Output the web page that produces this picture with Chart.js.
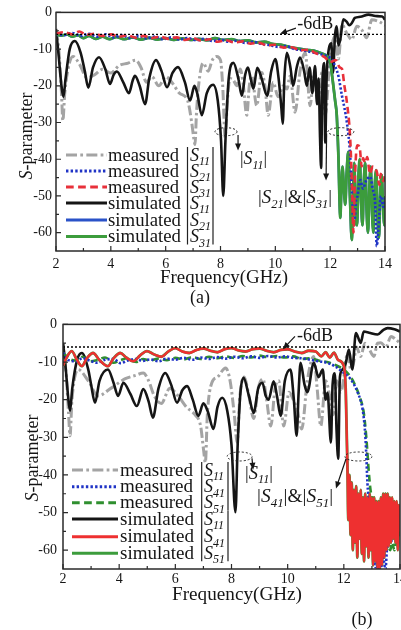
<!DOCTYPE html>
<html lang="en">
<head>
<meta charset="UTF-8">
<title>S-parameter</title>
<script src="https://cdn.jsdelivr.net/npm/chart.js@4.4.1/dist/chart.umd.min.js"></script>
<style>
  html, body { margin: 0; padding: 0; background: #fff; overflow: hidden; }
  .wrap { position: relative; width: 401px; height: 630px; overflow: hidden; }
  #chartA { position: absolute; left: 0; top: 0; }
  #chartB { position: absolute; left: 0; top: 310px; }
</style>
</head>
<body>
<div class="wrap">
  <canvas id="chartA" width="401" height="308"></canvas>
  <canvas id="chartB" width="410" height="320"></canvas>
</div>
<script>
// axis ticks
const xTicks = [2, 4, 6, 8, 10, 12, 14];
const xMinor = [3, 5, 7, 9, 11, 13];
const yTicks = [-60, -50, -40, -30, -20, -10, 0];
const yMinor = [-55, -45, -35, -25, -15, -5];
const refLevel = -6;

// ---- panel (a) : [GHz, dB]
const aS11meas = [[2.0,-5],[2.1,-10],[2.2,-22],[2.25,-29.5],[2.32,-22],[2.45,-15],[2.62,-12],[2.85,-14],[3.13,-17.8],[3.4,-17],[3.7,-15.5],[4.0,-16.5],[4.3,-14.5],[4.63,-13.8],[4.9,-13],[5.1,-15],[5.3,-19],[5.5,-17.5],[5.75,-20],[6.0,-17.5],[6.27,-19.5],[6.5,-22],[6.8,-24],[6.95,-30],[7.02,-34],[7.07,-36],[7.12,-28],[7.2,-20],[7.37,-13.8],[7.55,-16],[7.7,-13],[7.86,-12],[8.0,-13],[8.08,-20],[8.17,-34],[8.25,-24],[8.35,-18],[8.47,-18.5],[8.6,-20],[8.72,-15.4],[8.82,-19],[8.96,-28],[9.05,-20],[9.14,-17.3],[9.32,-25.4],[9.5,-16.4],[9.62,-20],[9.74,-28],[9.92,-19],[10.1,-23],[10.3,-20],[10.42,-20.9],[10.54,-17.3],[10.72,-27.2],[10.9,-16],[11.09,-11],[11.27,-25.4],[11.4,-17],[11.55,-24],[11.7,-16.4],[11.82,-28],[12.0,-12],[12.18,-6.5],[12.3,-12.7],[12.43,-3.3],[12.6,-5.6],[12.79,-7.4],[12.97,-3.8],[13.15,-4.7],[13.33,-6.9],[13.52,-2],[13.75,-2.4],[13.94,-3.2],[14.0,-3.5]];
const aS11sim = [[2.0,-4.5],[2.1,-12],[2.2,-20],[2.27,-23],[2.35,-18],[2.5,-10],[2.69,-7.8],[2.9,-11],[3.05,-16],[3.18,-20.5],[3.35,-15],[3.57,-12.2],[3.8,-15.5],[3.97,-19.5],[4.1,-17],[4.22,-16.1],[4.45,-19],[4.66,-22],[4.8,-18.5],[4.88,-17.3],[5.05,-20],[5.25,-25],[5.4,-18],[5.65,-13],[5.85,-16],[6.05,-20.4],[6.25,-16.5],[6.45,-14.9],[6.7,-19],[6.89,-24],[7.05,-20],[7.15,-22],[7.32,-28],[7.5,-22],[7.73,-19.7],[7.9,-24],[8.02,-35],[8.1,-50],[8.18,-35],[8.3,-18],[8.47,-13.7],[8.65,-18],[8.78,-22.7],[8.9,-17],[9.0,-15],[9.1,-18],[9.2,-20.8],[9.34,-15.1],[9.5,-18],[9.7,-22.7],[9.85,-16],[10.0,-12.7],[10.12,-18],[10.22,-26],[10.27,-30.3],[10.33,-18],[10.42,-11],[10.55,-15],[10.65,-20],[10.78,-15],[10.9,-12.3],[11.05,-16],[11.15,-20],[11.25,-15],[11.35,-22],[11.45,-14.6],[11.52,-25],[11.58,-18],[11.63,-34],[11.67,-42.4],[11.71,-22],[11.78,-13.8],[11.82,-35.5],[11.87,-18],[11.95,-10],[12.04,-8.4],[12.1,-16.5],[12.18,-6],[12.24,-3.8],[12.3,-9],[12.37,-7.3],[12.48,-1.9],[12.6,-2.5],[12.7,-3.5],[12.79,-2.9],[12.9,-1.5],[13.1,-1.2],[13.4,-0.6],[13.65,-1.0],[13.9,-1.1],[14.0,-2]];
const aS21meas = [[2.0,-5.8],[2.3,-6.2],[2.6,-5.6],[2.9,-6.4],[3.2,-5.8],[3.5,-6.6],[3.8,-6.0],[4.1,-6.8],[4.4,-6.2],[4.7,-7.0],[5.0,-6.4],[5.3,-7.1],[5.6,-6.6],[5.9,-7.3],[6.2,-6.8],[6.5,-7.4],[6.8,-7.0],[7.1,-7.6],[7.4,-7.2],[7.7,-7.8],[8.0,-7.4],[8.3,-8.0],[8.6,-7.7],[8.9,-8.3],[9.2,-8.0],[9.5,-8.6],[9.8,-8.9],[10.1,-9.4],[10.4,-9.2],[10.7,-10],[11.0,-10.3],[11.3,-10.8],[11.6,-11.3],[11.9,-12],[12.06,-12.8],[12.2,-15],[12.3,-17.3],[12.43,-22.7],[12.52,-26],[12.61,-30],[12.73,-39],[12.79,-48.8],[12.85,-57],[12.9,-56],[12.95,-51],[13.0,-50],[13.05,-47],[13.1,-45.7],[13.2,-48],[13.3,-46],[13.4,-45],[13.46,-44.8],[13.55,-48],[13.64,-52],[13.7,-63.7],[13.75,-60],[13.85,-50],[13.94,-53],[14.0,-50]];
const aS31meas = [[2.0,-5.8],[2.3,-5.4],[2.6,-6.0],[2.85,-5.2],[3.1,-6.1],[3.4,-5.8],[3.7,-6.4],[4.0,-6.0],[4.3,-6.6],[4.6,-6.2],[4.9,-6.9],[5.2,-6.4],[5.5,-7.0],[5.8,-6.6],[6.1,-7.2],[6.4,-6.8],[6.7,-7.5],[7.0,-7.0],[7.3,-7.7],[7.6,-7.3],[7.9,-8.0],[8.2,-7.6],[8.5,-8.2],[8.8,-7.9],[9.1,-8.5],[9.4,-8.3],[9.7,-9.0],[10.0,-8.8],[10.3,-9.6],[10.6,-9.5],[10.9,-10.3],[11.2,-10.2],[11.5,-11.2],[11.8,-12.2],[12.0,-13.5],[12.2,-13],[12.35,-15],[12.43,-15.4],[12.52,-20],[12.61,-24.5],[12.73,-34.3],[12.8,-48],[12.85,-60],[12.9,-46],[12.95,-38],[13.0,-36.2],[13.08,-37],[13.15,-42],[13.2,-39.7],[13.28,-41],[13.35,-39.4],[13.45,-44],[13.55,-42],[13.7,-43.4],[13.8,-47],[13.84,-44],[13.95,-46],[14.0,-44]];
const aS31sim = [[2.0,-6],[2.2,-6.3],[2.4,-6.0],[2.6,-6.6],[2.8,-6.2],[3.0,-7.0],[3.2,-6.4],[3.45,-7.2],[3.7,-6.6],[3.95,-7.3],[4.2,-6.7],[4.5,-7.3],[4.8,-6.8],[5.1,-7.4],[5.4,-6.9],[5.7,-7.4],[6.0,-7.0],[6.3,-7.5],[6.6,-7.1],[6.9,-7.5],[7.2,-7.2],[7.5,-7.6],[7.8,-7.0],[8.1,-7.5],[8.4,-7.3],[8.7,-7.8],[9.0,-7.6],[9.3,-8.2],[9.6,-8.0],[9.9,-8.6],[10.2,-8.8],[10.5,-9.4],[10.8,-9.8],[11.1,-10.2],[11.4,-10.4],[11.7,-11.2],[11.9,-12],[12.0,-13.5],[12.1,-19],[12.18,-24],[12.24,-28],[12.3,-39],[12.37,-56],[12.4,-50],[12.45,-42],[12.5,-48],[12.55,-52.4],[12.6,-44],[12.66,-38],[12.72,-50],[12.79,-62],[12.84,-48],[12.88,-41],[12.93,-55],[12.98,-58],[13.03,-45],[13.08,-40],[13.13,-52],[13.18,-58],[13.23,-46],[13.28,-41],[13.33,-54],[13.38,-60],[13.43,-48],[13.48,-42],[13.53,-55],[13.58,-60],[13.63,-47],[13.68,-43],[13.73,-56],[13.78,-61.4],[13.83,-49],[13.88,-44.3],[13.93,-53],[13.98,-58],[14.0,-50]];
const aS21sim = aS31sim; // hidden under S31 (symmetric ports)

// ---- panel (b)
const bS11meas = [[2.0,-5],[2.12,-14],[2.2,-24],[2.25,-29.6],[2.32,-20],[2.54,-12],[2.9,-15],[3.25,-19],[3.7,-17],[4.2,-14.5],[4.6,-13.5],[4.86,-12.9],[5.05,-15],[5.25,-19],[5.5,-21],[5.8,-17],[6.1,-19],[6.4,-22],[6.7,-24],[6.9,-27],[7.0,-33],[7.07,-36.7],[7.14,-24],[7.3,-15.5],[7.5,-14],[7.79,-11.6],[7.95,-15],[8.1,-24],[8.2,-31.4],[8.3,-19],[8.45,-14],[8.62,-19],[8.79,-25],[8.95,-17],[9.12,-14.5],[9.25,-20],[9.4,-27],[9.55,-17],[9.68,-15],[9.86,-27],[10.05,-18],[10.2,-20],[10.35,-23],[10.5,-27.8],[10.7,-15],[10.93,-8.5],[11.05,-17],[11.18,-27],[11.35,-15],[11.5,-19],[11.62,-24],[11.75,-15],[11.9,-18],[12.0,-14],[12.13,-7.6],[12.25,-12],[12.35,-10],[12.45,-6],[12.6,-8.5],[12.75,-5],[12.9,-6.5],[13.07,-8.5],[13.2,-5],[13.32,-4.9],[13.5,-6],[13.68,-3.2],[13.85,-4],[14.0,-5]];
const bS11sim = [[2.0,-5],[2.1,-12],[2.18,-19],[2.25,-23],[2.33,-17],[2.5,-9.5],[2.67,-7.6],[2.9,-12],[3.0,-16],[3.14,-20.8],[3.3,-15],[3.6,-12],[3.8,-15.5],[3.96,-19],[4.15,-15.5],[4.4,-18.5],[4.63,-21.7],[4.86,-17.2],[5.05,-20.5],[5.2,-24.8],[5.4,-17],[5.64,-12.9],[5.85,-16],[6.06,-20.8],[6.25,-17.5],[6.42,-16.4],[6.62,-20],[6.82,-24.3],[7.0,-21],[7.15,-23],[7.36,-27.8],[7.5,-22],[7.67,-19.5],[7.85,-23],[8.0,-32],[8.14,-49.9],[8.22,-32],[8.32,-18],[8.43,-14.2],[8.62,-19],[8.79,-23.5],[8.95,-17],[9.1,-15.5],[9.22,-19],[9.32,-20],[9.5,-15.1],[9.62,-19],[9.75,-24.3],[9.9,-15],[10.1,-12],[10.22,-20],[10.32,-29.6],[10.39,-18],[10.46,-10.2],[10.6,-16],[10.7,-18],[10.93,-10.2],[11.1,-14],[11.25,-12],[11.35,-20],[11.42,-18.2],[11.54,-31.4],[11.6,-16],[11.68,-13],[11.74,-28],[11.8,-35.7],[11.86,-14],[11.95,-12],[12.07,-10.2],[12.18,-6.7],[12.3,-12],[12.43,-2.3],[12.6,-4.9],[12.71,-1.9],[12.9,-2.2],[13.2,-2.7],[13.4,-1.5],[13.56,-1],[13.8,-1.3],[14.0,-1.9]];
const bS41meas = [[2.0,-7.5],[2.2,-9.5],[2.45,-9.8],[2.7,-9.0],[2.95,-9.6],[3.2,-10.2],[3.5,-9.4],[3.8,-9.2],[4.05,-10.3],[4.3,-9.6],[4.6,-9.2],[4.85,-9.7],[5.1,-9.3],[5.4,-9.8],[5.7,-9.1],[6.0,-9.4],[6.3,-8.9],[6.6,-9.4],[6.9,-8.8],[7.2,-9.2],[7.5,-8.7],[7.8,-9.1],[8.1,-8.6],[8.4,-9.0],[8.7,-8.5],[9.0,-8.9],[9.3,-8.4],[9.6,-8.8],[9.9,-8.5],[10.2,-8.9],[10.5,-9.0],[10.8,-9.4],[11.1,-9.8],[11.4,-10.2],[11.7,-11.2],[12.0,-12.9],[12.25,-14.6],[12.5,-18.2],[12.67,-22.6],[12.75,-28],[12.79,-33],[12.84,-42],[12.9,-48],[12.97,-55],[13.07,-62],[13.12,-64.5],[13.2,-63],[13.3,-65],[13.4,-62],[13.48,-65],[13.55,-58],[13.62,-55],[13.68,-58],[13.74,-52],[13.8,-56],[13.9,-54.8],[14.0,-50]];
const bS51meas = [[2.0,-7.5],[2.2,-9],[2.45,-9.6],[2.7,-8.6],[2.95,-9.8],[3.2,-9.5],[3.5,-8.8],[3.8,-10.2],[4.05,-9.5],[4.3,-9.0],[4.6,-10.0],[4.85,-9.2],[5.1,-9.6],[5.4,-9.1],[5.7,-9.5],[6.0,-8.9],[6.3,-9.3],[6.6,-8.7],[6.9,-9.2],[7.2,-8.6],[7.5,-9.0],[7.8,-8.5],[8.1,-8.9],[8.4,-8.4],[8.7,-8.8],[9.0,-8.3],[9.3,-8.7],[9.6,-8.4],[9.9,-8.8],[10.2,-8.5],[10.5,-9.2],[10.8,-9.0],[11.1,-9.6],[11.4,-10.0],[11.7,-10.8],[12.0,-12],[12.2,-13.5],[12.36,-15.5],[12.55,-19],[12.71,-23.5],[12.8,-30],[12.89,-39.3],[12.95,-44],[13.02,-46],[13.1,-48],[13.2,-50.8],[13.3,-53],[13.45,-56],[13.56,-58],[13.65,-60],[13.72,-58],[13.8,-60],[13.88,-57],[13.96,-56.6],[14.0,-55]];
const bS41sim = [[2.0,-11],[2.15,-8.5],[2.31,-7.1],[2.5,-9.5],[2.67,-11.1],[2.85,-9],[3.07,-7.6],[3.3,-9.5],[3.6,-11.1],[3.8,-9],[4.04,-7.6],[4.25,-8.8],[4.5,-9.8],[4.75,-8.2],[4.99,-7.1],[5.25,-8],[5.5,-8.6],[5.75,-7.2],[6.0,-6.3],[6.25,-7.2],[6.5,-7.6],[6.75,-6.8],[7.0,-6.4],[7.25,-7.0],[7.5,-7.4],[7.75,-6.6],[8.0,-6.3],[8.25,-6.9],[8.5,-7.2],[8.75,-6.6],[9.0,-6.4],[9.25,-7.0],[9.5,-7.4],[9.75,-6.8],[10.0,-6.6],[10.25,-7.2],[10.5,-7.6],[10.75,-7.0],[11.0,-7.2],[11.2,-8.5],[11.35,-7.4],[11.5,-8.8],[11.65,-7.5],[11.8,-9.5],[12.0,-11],[12.07,-18],[12.13,-38.5],[12.16,-52],[12.2,-40],[12.24,-56],[12.28,-42],[12.32,-60],[12.36,-44],[12.4,-58],[12.44,-43],[12.48,-62],[12.52,-45],[12.56,-57],[12.6,-44],[12.64,-61],[12.68,-46],[12.72,-63],[12.76,-45],[12.8,-59],[12.84,-46],[12.88,-62],[12.92,-45],[12.96,-60],[13.0,-46],[13.04,-64],[13.08,-46],[13.12,-63],[13.16,-47],[13.2,-65],[13.24,-47],[13.28,-65],[13.32,-46],[13.36,-64],[13.4,-45],[13.44,-62],[13.48,-45],[13.52,-60],[13.56,-45],[13.6,-59],[13.64,-46],[13.68,-58],[13.72,-46],[13.76,-57],[13.8,-47],[13.84,-58],[13.88,-47],[13.92,-60],[13.96,-48],[14.0,-55]];
const bS51sim = bS41sim; // hidden under S41

const SERIF = '"Liberation Serif", "DejaVu Serif", serif';

const st = {
  ref:       { color: '#000',    width: 1.3, dash: [2, 2] },
  measS11:   { color: '#a4a4a4', width: 3,   dash: [10, 3, 2.5, 3] },
  measBlue:  { color: '#1f33c6', width: 2.6, dash: [2.2, 2] },
  measRed:   { color: '#e8303a', width: 2.6, dash: [7, 4] },
  measGreen: { color: '#2f8f2f', width: 2.6, dash: [7, 4] },
  simBlack:  { color: '#151515', width: 2.6, dash: [] },
  simBlue:   { color: '#2a52c8', width: 2.6, dash: [] },
  simRed:    { color: '#ee3030', width: 2.4, dash: [] },
  simGreen:  { color: '#3c9c3c', width: 2.8, dash: [] }
};

function ds(data, s, order) {
  return { data: data, borderColor: s.color, borderWidth: s.width, borderDash: s.dash,
           order: order, pointRadius: 0, fill: false };
}

// text with italic S and subscripts: runs of [text, 'n' | 'i' | 's']
// fitW: optional target width (the original lettering is a little wide)
function rich(ctx, x, y, runs, size, align, fitW) {
  const fontOf = k => k === 'i' ? `italic ${size}px ${SERIF}`
    : k === 's' ? `italic ${Math.round(size * 0.66)}px ${SERIF}` : `${size}px ${SERIF}`;
  let w = 0;
  runs.forEach(([t, k]) => { ctx.font = fontOf(k); w += ctx.measureText(t).width; });
  const k = fitW ? fitW / w : 1;
  ctx.save();
  ctx.translate(align === 'center' ? x - w * k / 2 : x, y);
  ctx.scale(k, 1);
  ctx.textAlign = 'left';
  ctx.textBaseline = 'alphabetic';
  let cx = 0;
  runs.forEach(([t, kind]) => {
    ctx.font = fontOf(kind);
    ctx.fillText(t, cx, kind === 's' ? size * 0.25 : 0);
    cx += ctx.measureText(t).width;
  });
  ctx.restore();
}

function arrow(ctx, x1, y1, x2, y2) {
  const a = Math.atan2(y2 - y1, x2 - x1), L = 7, W = 3;
  ctx.setLineDash([]);
  ctx.lineWidth = 1.2;
  ctx.beginPath(); ctx.moveTo(x1, y1); ctx.lineTo(x2 - L * 0.6 * Math.cos(a), y2 - L * 0.6 * Math.sin(a)); ctx.stroke();
  ctx.beginPath();
  ctx.moveTo(x2, y2);
  ctx.lineTo(x2 - L * Math.cos(a) + W * Math.sin(a), y2 - L * Math.sin(a) - W * Math.cos(a));
  ctx.lineTo(x2 - L * Math.cos(a) - W * Math.sin(a), y2 - L * Math.sin(a) + W * Math.cos(a));
  ctx.closePath(); ctx.fill();
}

function decor(p) {
  return {
    id: 'decor',
    afterDraw(chart) {
      const ctx = chart.ctx, a = chart.chartArea;
      const X = v => chart.scales.x.getPixelForValue(v);
      const Y = v => chart.scales.y.getPixelForValue(v);
      ctx.save();
      ctx.strokeStyle = '#2a2a2a';
      ctx.fillStyle = '#151515';
      // frame + inward ticks
      ctx.setLineDash([]);
      ctx.lineWidth = 1.5;
      ctx.strokeRect(a.left, a.top, a.right - a.left, a.bottom - a.top);
      ctx.lineWidth = 1.2;
      ctx.beginPath();
      xTicks.forEach(v => { ctx.moveTo(X(v), a.bottom); ctx.lineTo(X(v), a.bottom - 5); });
      xMinor.forEach(v => { ctx.moveTo(X(v), a.bottom); ctx.lineTo(X(v), a.bottom - 3); });
      yTicks.forEach(v => { ctx.moveTo(a.left, Y(v)); ctx.lineTo(a.left + 5, Y(v)); });
      yMinor.forEach(v => { ctx.moveTo(a.left, Y(v)); ctx.lineTo(a.left + 3, Y(v)); });
      ctx.stroke();

      // legend
      const lg = p.legend;
      lg.rows.forEach((ry, i) => {
        const s = lg.styles[i];
        ctx.strokeStyle = s.color; ctx.lineWidth = 3; ctx.setLineDash(s.dash.length ? s.dash.map(d => d * 1.1) : []);
        ctx.beginPath(); ctx.moveTo(lg.sx0, ry); ctx.lineTo(lg.sx1, ry); ctx.stroke();
        ctx.fillStyle = '#151515';
        rich(ctx, lg.tx, ry + 5.5, [[lg.words[i], 'n']], 18, 'left', lg.wordW[i]);
        rich(ctx, lg.sx, ry + 5.5, [['S', 'i'], [lg.subs[i], 's']], 18);
      });
      ctx.setLineDash([]); ctx.strokeStyle = '#222'; ctx.lineWidth = 1.2;
      [[0, 2], [3, 5]].forEach(([r0, r1]) => {
        const t = lg.rows[r0] - 8, b = lg.rows[r1] + 8;
        ctx.beginPath();
        ctx.moveTo(lg.barL, t); ctx.lineTo(lg.barL, b);
        ctx.moveTo(lg.barR, t); ctx.lineTo(lg.barR, b);
        ctx.stroke();
      });

      // titles
      ctx.fillStyle = '#151515';
      ctx.save();
      ctx.translate(p.yTitle[0], p.yTitle[1]);
      ctx.rotate(-Math.PI / 2);
      rich(ctx, 0, 6, [['S', 'i'], ['-parameter', 'n']], 18, 'center');
      ctx.restore();
      rich(ctx, p.xTitle[0], p.xTitle[1] + 6, [['Frequency(GHz)', 'n']], 18, 'center', p.xTitle[2]);
      rich(ctx, p.tag[0], p.tag[1] + 6, [[p.tag[2], 'n']], 18, 'center');

      // annotations (anchored in data space)
      const n = p.notes;
      rich(ctx, X(n.six[0]), Y(n.six[1]) + 6, [['-6dB', 'n']], 18);
      ctx.strokeStyle = '#151515';
      arrow(ctx, X(n.sixArrow[0]), Y(n.sixArrow[1]), X(n.sixArrow[2]), Y(n.sixArrow[3]));
      n.ellipses.forEach(e => {
        ctx.setLineDash([2, 2]); ctx.lineWidth = 1; ctx.strokeStyle = '#222';
        ctx.beginPath(); ctx.ellipse(X(e[0]), Y(e[1]), e[2], e[3], 0, 0, Math.PI * 2); ctx.stroke();
      });
      ctx.strokeStyle = '#151515';
      n.arrows.forEach(r => arrow(ctx, X(r[0]), Y(r[1]), X(r[2]), Y(r[3])));
      n.labels.forEach(l => rich(ctx, X(l[0]), Y(l[1]) + 6, l[2], 18, 'left', l[3]));
      ctx.restore();
    }
  };
}

function makeChart(id, cfg) {
  const tickFont = { family: SERIF, size: 14 };
  return new Chart(document.getElementById(id), {
    type: 'line',
    data: { datasets: cfg.datasets },
    options: {
      responsive: false,
      animation: false,
      events: [],
      layout: { padding: cfg.padding },
      elements: { line: { cubicInterpolationMode: 'monotone', borderJoinStyle: 'round' }, point: { radius: 0 } },
      plugins: { legend: { display: false }, tooltip: { enabled: false } },
      scales: {
        x: {
          type: 'linear', min: 2, max: 14,
          grid: { display: false, drawTicks: false }, border: { display: false },
          ticks: { stepSize: 2, font: tickFont, color: '#151515', padding: cfg.xPad, maxRotation: 0, autoSkip: false },
          afterFit: s => { s.height = cfg.xHeight; }
        },
        y: {
          type: 'linear', min: -65, max: 0,
          grid: { display: false, drawTicks: false }, border: { display: false },
          ticks: { font: tickFont, color: '#151515', padding: cfg.yPad },
          afterBuildTicks: s => { s.ticks = yTicks.map(v => ({ value: v })); },
          afterFit: s => { s.width = cfg.yWidth; }
        }
      }
    },
    plugins: [decor(cfg)]
  });
}

const Sub = (a, b) => [['|', 'n'], ['S', 'i'], [a, 's'], ['|', 'n']].concat(b ? [['&', 'n'], ['|', 'n'], ['S', 'i'], [b, 's'], ['|', 'n']] : []);
const words = ['measured', 'measured', 'measured', 'simulated', 'simulated', 'simulated'];

makeChart('chartA', {
  padding: { left: 0, top: 11, right: 16, bottom: 0 },
  yWidth: 56, xHeight: 57, xPad: 5, yPad: 4,
  datasets: [
    ds([[2, refLevel], [14, refLevel]], st.ref, 0),
    ds(aS31meas, st.measRed, 1),
    ds(aS21meas, st.measBlue, 2),
    ds(aS31sim, st.simGreen, 3),
    ds(aS21sim, st.simBlue, 4),
    ds(aS11sim, st.simBlack, 5),
    ds(aS11meas, st.measS11, 6)
  ],
  legend: {
    sx0: 66, sx1: 107, tx: 108, sx: 190, barL: 187.5, barR: 213,
    rows: [155, 171, 187, 203, 220, 236.5],
    words: words, wordW: [71, 71, 71, 73, 73, 73],
    subs: ['11', '21', '31', '11', '21', '31'],
    styles: [st.measS11, st.measBlue, st.measRed, st.simBlack, st.simBlue, st.simGreen]
  },
  yTitle: [26, 136], xTitle: [224, 277, 128], tag: [200, 297, '(a)'],
  notes: {
    six: [10.8, -3.0], sixArrow: [10.75, -4.3, 10.17, -5.8],
    ellipses: [[8.2, -32.5, 11, 4], [12.39, -32.5, 13, 4]],
    arrows: [[8.64, -33.4, 8.64, -37.6], [11.87, -33.0, 11.85, -45.8]],
    labels: [[8.71, -39.8, Sub('11'), 27], [9.37, -50.4, Sub('21', '31'), 74]]
  }
});

makeChart('chartB', {
  padding: { left: 0, top: 13, right: 10, bottom: 0 },
  yWidth: 63, xHeight: 61, xPad: 2, yPad: 6,
  datasets: [
    ds([[2, refLevel], [14, refLevel]], st.ref, 0),
    ds(bS41sim, st.simRed, 1),
    ds(bS41meas, st.measBlue, 2),
    ds(bS51meas, st.measGreen, 3),
    ds(bS51sim, st.simGreen, 4),
    ds(bS11sim, st.simBlack, 5),
    ds(bS11meas, st.measS11, 6)
  ],
  legend: {
    sx0: 72, sx1: 118, tx: 120, sx: 204, barL: 201.7, barR: 228,
    rows: [160, 176.7, 192.7, 209, 226.7, 243.3],
    words: words, wordW: [73, 73, 73, 74, 74, 74],
    subs: ['11', '41', '51', '11', '41', '51'],
    styles: [st.measS11, st.measBlue, st.measGreen, st.simBlack, st.simRed, st.simGreen]
  },
  yTitle: [32, 148], xTitle: [237, 284, 130], tag: [362, 309, '(b)'],
  notes: {
    six: [10.33, -2.9], sixArrow: [10.26, -3.2, 9.83, -6.6],
    ellipses: [[8.29, -35.1, 12.5, 4.5], [12.52, -35.1, 13.5, 4.5]],
    arrows: [[8.73, -35.6, 8.77, -38.6], [12.08, -35.7, 11.72, -43.6]],
    labels: [[8.48, -39.4, Sub('11'), 28], [8.91, -45.7, Sub('41', '51'), 76]]
  }
});
</script>
</body>
</html>
